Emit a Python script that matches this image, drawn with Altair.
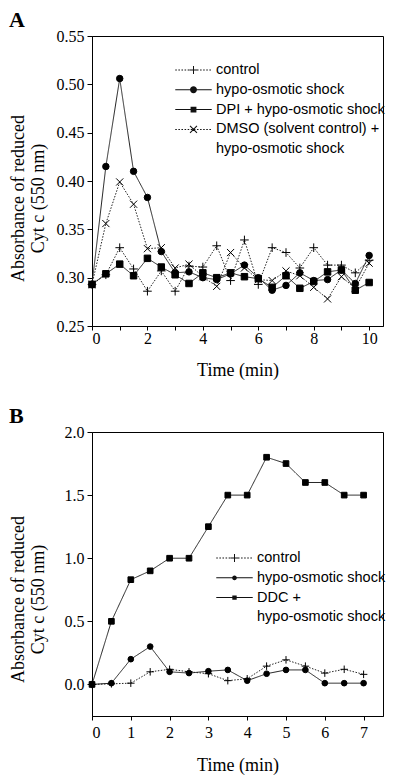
import altair as alt
import pandas as pd

# ---------------- Panel A data ----------------
time_a = [0, 0.5, 1, 1.5, 2, 2.5, 3, 3.5, 4, 4.5, 5, 5.5, 6, 6.5, 7, 7.5, 8, 8.5, 9, 9.5, 10]
control_a = [0.293, 0.303, 0.331, 0.309, 0.286, 0.307, 0.286, 0.312, 0.311, 0.333, 0.297,
             0.339, 0.293, 0.331, 0.326, 0.310, 0.331, 0.313, 0.313, 0.305, 0.318]
hypo_a = [0.293, 0.415, 0.506, 0.410, 0.383, 0.327, 0.305, 0.306, 0.300, 0.298, 0.304,
          0.313, 0.300, 0.287, 0.292, 0.305, 0.297, 0.298, 0.308, 0.294, 0.323]
dpi_a = [0.293, 0.304, 0.314, 0.302, 0.320, 0.311, 0.303, 0.294, 0.305, 0.300, 0.305,
         0.301, 0.299, 0.290, 0.302, 0.289, 0.296, 0.306, 0.308, 0.287, 0.295]
dmso_a = [0.293, 0.356, 0.399, 0.376, 0.330, 0.331, 0.310, 0.314, 0.301, 0.291, 0.326,
          0.310, 0.298, 0.297, 0.307, 0.302, 0.290, 0.278, 0.301, 0.289, 0.315]
series_a = ["control", "hypo-osmotic shock", "DPI + hypo-osmotic shock", "DMSO (solvent control) +"]
legend_a = series_a + ["hypo-osmotic shock\u00a0"]

# ---------------- Panel B data ----------------
time_b = [0, 0.5, 1, 1.5, 2, 2.5, 3, 3.5, 4, 4.5, 5, 5.5, 6, 6.5, 7]
control_b = [0.0, 0.005, 0.01, 0.10, 0.12, 0.10, 0.085, 0.03, 0.045, 0.145, 0.195, 0.145, 0.09, 0.12, 0.08]
hypo_b = [0.0, 0.01, 0.20, 0.30, 0.10, 0.09, 0.105, 0.115, 0.03, 0.085, 0.115, 0.115, 0.01, 0.01, 0.01]
ddc_b = [0.0, 0.50, 0.83, 0.90, 1.00, 1.00, 1.25, 1.50, 1.50, 1.80, 1.75, 1.60, 1.60, 1.50, 1.50]
series_b = ["control", "hypo-osmotic shock", "DDC +"]
legend_b = series_b + ["hypo-osmotic shock\u00a0"]

rows_a = []
for name, vals in zip(series_a, [control_a, hypo_a, dpi_a, dmso_a]):
    for t, v in zip(time_a, vals):
        rows_a.append({"t": t, "value": v, "series": name})
df_a = pd.DataFrame(rows_a)

rows_b = []
for name, vals in zip(series_b, [control_b, hypo_b, ddc_b]):
    for t, v in zip(time_b, vals):
        rows_b.append({"t": t, "value": v, "series": name})
df_b = pd.DataFrame(rows_b)

# ---------------- marker / legend symbol paths (style only) ----------------
PLUS = "M-1.33,0H1.33M0,-1.33V1.33"
CROSS = "M-1.1,-1.1L1.1,1.1M-1.1,1.1L1.1,-1.1"

HT = 0.028  # half line thickness in legend symbol units (~1px)


def rect(x1, y1, x2, y2):
    return "M%.3f,%.3fH%.3fV%.3fH%.3fZ" % (x1, y1, x2, y2, x1)


def solid_line():
    return rect(-1, -HT, 1, HT)


def dotted_line():
    out = []
    x = -1.0
    while x < 1.0:
        out.append(rect(x, -HT, min(x + 0.085, 1.0), HT))
        x += 0.17
    return "".join(out)


def plus_mark(a):
    return rect(-a, -HT, a, HT) + rect(-HT, -a, HT, a)


def x_mark(a):
    d = HT * 0.75
    p1 = "M%.3f,%.3fL%.3f,%.3fL%.3f,%.3fL%.3f,%.3fZ" % (-a + d, -a - d, a + d, a - d, a - d, a + d, -a - d, -a + d)
    p2 = "M%.3f,%.3fL%.3f,%.3fL%.3f,%.3fL%.3f,%.3fZ" % (-a - d, a - d, a - d, -a - d, a + d, -a + d, -a + d, a + d)
    return p1 + p2


def circ(r):
    return "M%.3f,0A%.3f,%.3f 0 1,1 %.3f,0A%.3f,%.3f 0 1,1 %.3f,0Z" % (-r, r, r, r, r, r, -r)


L_PLUS = dotted_line() + plus_mark(0.22)
L_CIRC_A = solid_line() + circ(0.19)
L_SQ_A = solid_line() + rect(-0.16, -0.16, 0.16, 0.16)
L_X = dotted_line() + x_mark(0.19)
L_CIRC_B = solid_line() + circ(0.13)
L_SQ_B = solid_line() + rect(-0.12, -0.12, 0.12, 0.12)
L_NONE = "M0,0"

SERIF = "Liberation Serif"
SANS = "Liberation Sans"


def panel(df, series, dashes, shapes, leg_domain, leg_paths, xdom, xvals, xlabexpr,
          ydom, yvals, yfmt, w, h, legx, legy, letter, title_y, msize, xlabpad, xtitlepad):
    base = alt.Chart(df)
    x = alt.X("t:Q", scale=alt.Scale(domain=xdom, nice=False, zero=False),
              axis=alt.Axis(values=xvals, labelExpr=xlabexpr, title="Time (min)",
                            tickSize=4, labelPadding=xlabpad, titlePadding=xtitlepad))
    y = alt.Y("value:Q", scale=alt.Scale(domain=ydom, nice=False, zero=False),
              axis=alt.Axis(values=yvals, format=yfmt,
                            title=["Absorbance of reduced", "Cyt c (550 nm)"],
                            titleX=-74, titleY=title_y, titleAngle=270,
                            titleAlign="center", titleBaseline="middle",
                            titleLineHeight=20, tickSize=5, labelPadding=3))
    lines = base.mark_line(color="#222", strokeWidth=1).encode(
        x=x, y=y, detail="series:N",
        strokeDash=alt.StrokeDash("series:N", scale=alt.Scale(domain=series, range=dashes), legend=None),
    )
    pts = base.mark_point(filled=True, fill="black", stroke="black", strokeWidth=1,
                          size=msize, opacity=1).encode(
        x=x, y=y,
        shape=alt.Shape("series:N", scale=alt.Scale(domain=series, range=shapes), legend=None),
    )
    leg = base.transform_filter("false").mark_point(
        filled=True, fill="#111", opacity=1).encode(
        x=x, y=y,
        shape=alt.Shape("series:N", scale=alt.Scale(domain=leg_domain, range=leg_paths),
                        legend=alt.Legend(orient="none", legendX=legx, legendY=legy, title=None,
                                          symbolSize=1330, symbolStrokeWidth=0,
                                          symbolFillColor="#111",
                                          symbolOpacity=1, clipHeight=18, rowPadding=1.8,
                                          labelFont=SANS, labelFontSize=14.5, labelColor="black",
                                          labelOffset=4, labelLimit=400, padding=0)),
    )
    return alt.layer(lines, pts, leg).resolve_scale(shape="independent").properties(
        width=w, height=h,
        title=alt.TitleParams(letter, anchor="start", frame="bounds", font=SERIF, fontSize=22,
                              fontWeight="bold", color="black", offset=-4),
    )


chart_a = panel(df_a, series_a, [[1.5, 1.5], [1, 0], [1, 0], [1.5, 1.5]],
                [PLUS, "circle", "square", CROSS], legend_a, [L_PLUS, L_CIRC_A, L_SQ_A, L_X, L_NONE],
                [0, 10.5], [0, 1, 2, 3, 4, 5, 6, 7, 8, 9, 10],
                "datum.value % 2 == 0 ? datum.label : ''",
                [0.25, 0.55], [0.25, 0.30, 0.35, 0.40, 0.45, 0.50, 0.55], ".2f",
                291, 290, 83, 25, "A", 162, 42, 0, 15)

chart_b = panel(df_b, series_b, [[1.5, 1.5], [1, 0], [1, 0]],
                [PLUS, "circle", "square"], legend_b, [L_PLUS, L_CIRC_B, L_SQ_B, L_NONE],
                [0, 7.5], [0, 1, 2, 3, 4, 5, 6, 7], "datum.label",
                [-0.25, 2.0], [0.0, 0.5, 1.0, 1.5, 2.0], ".1f",
                291, 284, 124, 117, "B", 167, 32, 4, 16)

chart = alt.vconcat(chart_a, chart_b, spacing=24).resolve_scale(
    strokeDash="independent", shape="independent"
).properties(padding=0).configure_view(
    stroke="black", strokeWidth=1
).configure_axis(
    grid=False, domainColor="black", tickColor="black", labelColor="black", titleColor="black",
    labelFont=SERIF, titleFont=SERIF, labelFontSize=16, titleFontSize=18, titleFontWeight="normal",
    domainWidth=1, tickWidth=1,
)

chart.save("out.html", embed_options={"renderer": "svg", "actions": False})
